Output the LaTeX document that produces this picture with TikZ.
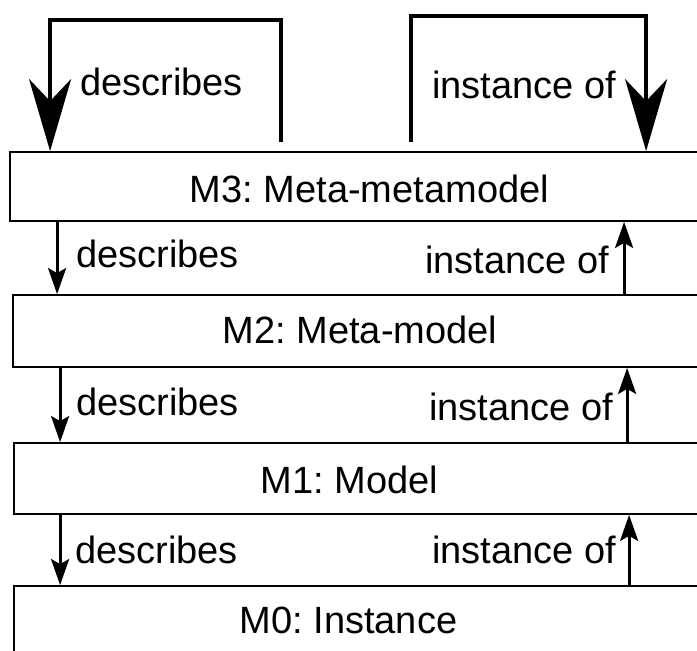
\documentclass[tikz,border=0pt]{standalone}
\usepackage{fontspec}
\setmainfont{Liberation Sans}
\usetikzlibrary{arrows.meta}
\tikzset{
  box/.style={draw, line width=1.8pt, rectangle, inner sep=0pt},
  lbl/.style={inner sep=0pt, font=\fontsize{38}{44}\selectfont\frenchspacing},
  bigarr/.style={line width=4pt, -{Stealth[length=72pt, width=42pt, inset=22pt]}},
  smallarr/.style={line width=3pt, -{Stealth[length=26pt, width=18pt, inset=5pt, fill=black]}},
}
\begin{document}
\begin{tikzpicture}[x=1pt, y=-1pt]
\useasboundingbox (0,0) rectangle (697,651);
\clip (0,0) rectangle (697,651);
\fill[white] (0,0) rectangle (697,651);
% boxes
\node[box, minimum width=725pt, minimum height=69pt] (m3) at (372.5,186.5) {};
\node[box, minimum width=727pt, minimum height=72pt] (m2) at (376.5,331) {};
\node[box, minimum width=726pt, minimum height=71pt] (m1) at (377,478.5) {};
\node[box, minimum width=726pt, minimum height=94pt] (m0) at (377,633) {};
% box texts
\node[lbl, anchor=base] (t3) at (369.5,202) {M3: Meta-metamodel};
\node[lbl, anchor=base] (t2) at (360,343) {M2: Meta-model};
\node[lbl, anchor=base] (t1) at (349.5,493) {M1: Model};
\node[lbl, anchor=base] (t0) at (348.5,633) {M0: Instance};
% top loops
\draw[bigarr] ([shift={(272pt,9pt)}]m3.north west) -- ++(0,-122) -| ([xshift=41pt]m3.north west);
\draw[bigarr] ([shift={(402pt,9pt)}]m3.north west) -- ++(0,-126) -| ([xshift=637pt]m3.north west);
\node[lbl, anchor=base west] (ld3) at (80,95) {describes};
\node[lbl, anchor=base west] (li3) at (432,98) {instance of};
% describes arrows
\draw[smallarr] ([xshift=48pt]m3.south west) -- ([xshift=45pt]m2.north west);
\draw[smallarr] ([xshift=48pt]m2.south west) -- ([xshift=47pt]m1.north west);
\draw[smallarr] ([xshift=47pt]m1.south west) -- ([xshift=47pt]m0.north west);
\node[lbl, anchor=base west] (ld2) at (76,267) {describes};
\node[lbl, anchor=base west] (ld1) at (76,415) {describes};
\node[lbl, anchor=base west] (ld0) at (75,563) {describes};
% instance of arrows
\draw[smallarr] ([xshift=612pt]m2.north west) -- ([xshift=615pt]m3.south west);
\draw[smallarr] ([xshift=614pt]m1.north west) -- ([xshift=615pt]m2.south west);
\draw[smallarr] ([xshift=616pt]m0.north west) -- ([xshift=616pt]m1.south west);
\node[lbl, anchor=base west] (li2) at (425,273) {instance of};
\node[lbl, anchor=base west] (li1) at (429,420) {instance of};
\node[lbl, anchor=base west] (li0) at (432,563) {instance of};
\end{tikzpicture}
\end{document}
